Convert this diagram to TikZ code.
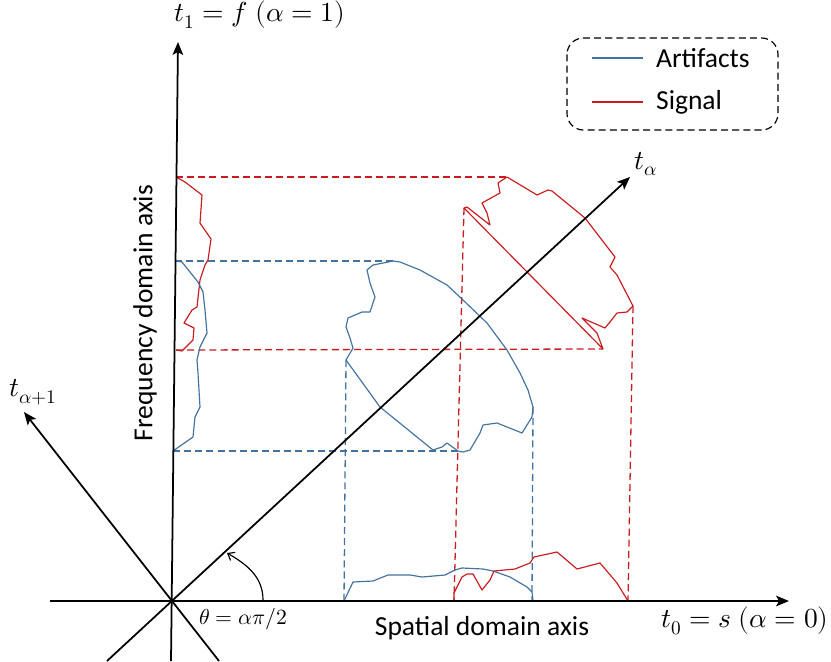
\documentclass[tikz,border=0pt]{standalone}
\usepackage{fontspec}
\usepackage{unicode-math}
\setmainfont{Carlito}
\setmathfont{Latin Modern Math}
\usepackage{tikz}
\usetikzlibrary{positioning,arrows.meta}
\definecolor{artblue}{RGB}{68,114,160}
\definecolor{sigred}{RGB}{200,28,32}

\begin{document}
\begin{tikzpicture}[x=0.03cm, y=-0.03cm, font=\fontsize{23.5}{27}\selectfont,
		axis/.style={line width=1.5pt, -{Stealth[length=11pt,width=9pt,inset=2.5pt]}},
		trace/.style={line width=1pt, line join=round},
		guide/.style={line width=1.1pt, dash pattern=on 6pt off 3.5pt},
		lbl/.style={inner sep=1pt}]
		\useasboundingbox (0,0) rectangle (831,661);

		\coordinate (O) at (172,601);
		\coordinate (sL) at (50,601);
		\coordinate (sR) at (789,601);
		\coordinate (fB) at (171,661);
		\coordinate (fT) at (178,42);
		\coordinate (aB) at (107,661);
		\coordinate (aT) at (630,177);
		\coordinate (bB) at (219,661);
		\coordinate (bT) at (24,412);

		\coordinate (rTop) at (507,177);
		\coordinate (rBot) at (603,349);
		\coordinate (rLeft) at (464,208);
		\coordinate (rRight) at (633,306);
		\coordinate (bTop) at (393,261);
		\coordinate (bBot) at (458,451);
		\coordinate (bLeft) at (346,360);
		\coordinate (bRight) at (533,407);

		\coordinate (fr1) at (176,177);
		\coordinate (fr2) at (176,350);
		\coordinate (fb1) at (175,261);
		\coordinate (fb2) at (173,451);
		\coordinate (sr1) at (454,601);
		\coordinate (sr2) at (628,601);
		\coordinate (sb1) at (344,601);
		\coordinate (sb2) at (532,601);

		\draw[guide, sigred] (fr1) -- (rTop);
		\draw[guide, sigred] (fr2) -- (rBot);
		\draw[guide, sigred] (rLeft) -- (sr1);
		\draw[guide, sigred] (rRight) -- (sr2);
		\draw[guide, artblue] (fb1) -- (bTop);
		\draw[guide, artblue] (fb2) -- (bBot);
		\draw[guide, artblue] (bLeft) -- (sb1);
		\draw[guide, artblue] (bRight) -- (sb2);

		\draw[trace, sigred] (rLeft) -- (467,207) -- (490,225) -- (487,213) -- (482,203) -- (500,193) -- (498,183) -- (rTop)
			-- (537,195) -- (548,190) -- (552,191) -- (585,218) -- (615,257) -- (610,267) -- (617,275) -- (rRight)
			-- (627,312) -- (617,313) -- (610,322) -- (605,328) -- (582,318) -- (597,333) -- (rBot) -- cycle;

		\draw[trace, artblue] (bLeft) -- (353,348) -- (350,338) -- (346,327) -- (348,318) -- (362,312) -- (370,312)
			-- (375,297) -- (370,283) -- (367,270) -- (373,265) -- (bTop) -- (400,262) -- (420,270) -- (447,285)
			-- (463,300) -- (487,323) -- (507,350) -- (520,373) -- (528,390) -- (bRight) -- (532,417) -- (522,433)
			-- (497,423) -- (483,425) -- (480,433) -- (470,450) -- (463,452) -- (bBot) -- (447,443) -- (442,447)
			-- (433,450) -- (380,407) -- cycle;

		\draw[trace, sigred] (fr1) -- (185,182) -- (202,195) -- (200,223) -- (211,239) -- (208,260) -- (205,265)
			-- (200,280) -- (197,307) -- (192,310) -- (184,323) -- (194,328) -- (193,340) -- (182,351) -- (fr2);

		\draw[trace, artblue] (fb1) -- (182,262) -- (198,282) -- (203,292) -- (205,310) -- (207,333) -- (200,347)
			-- (197,360) -- (198,373) -- (200,407) -- (195,417) -- (193,437) -- (fb2);

		\draw[trace, artblue] (sb1) -- (353,582) -- (373,581) -- (388,575) -- (410,575) -- (422,577) -- (445,575)
			-- (455,570) -- (462,568) -- (483,569) -- (493,571) -- (510,577) -- (527,587) -- (532,592) -- (533,600);

		\draw[trace, sigred] (sr1) -- (454,593) -- (462,577) -- (467,574) -- (473,574) -- (482,590) -- (490,580)
			-- (494,571) -- (515,569) -- (530,563) -- (534,557) -- (557,552) -- (577,569) -- (600,563) -- (617,583) -- (sr2);

		\draw[axis] (sL) -- (sR);
		\draw[axis] (fB) -- (fT);
		\draw[axis] (aB) -- (aT);
		\draw[axis] (bB) -- (bT);

		\coordinate (arcS) at (263,600);
		\coordinate (arcE) at (227,553);
		\draw[line width=1pt, -{Straight Barb[length=5pt,width=8pt]}] (arcS) to[out=90, in=-30] (arcE);

		\node[lbl] (t1lab) at (260,15) {$t_1 = f\;(\alpha = 1)$};
		\node[lbl] (talab) at (646,164) {$t_\alpha$};
		\node[lbl] (tblab) at (33,392) {$t_{\alpha+1}$};
		\node[lbl, font=\fontsize{18.5}{22}\selectfont] (thlab) at (243,619) {$\theta = \alpha\pi/2$};
		\node[lbl] (t0lab) at (745,621) {$t_0 = s\;(\alpha = 0)$};
		\node[lbl] (spat) at (482,628) {Spatial domain axis};
		\node[lbl, rotate=90] (freq) at (145,313) {Frequency domain axis};

		\draw[line width=1pt, dash pattern=on 6pt off 3.5pt, rounded corners=14pt] (567,38) rectangle (778,130);
		\coordinate (kA1) at (592,58);
		\coordinate (kA2) at (643,58);
		\coordinate (kS1) at (592,102);
		\coordinate (kS2) at (643,102);
		\draw[trace, artblue] (kA1) -- (kA2);
		\draw[trace, sigred] (kS1) -- (kS2);
		\node[lbl, right=10pt of kA2] (artlab) {Artifacts};
		\node[lbl, right=10pt of kS2] (siglab) {Signal};
	\end{tikzpicture}
\end{document}
